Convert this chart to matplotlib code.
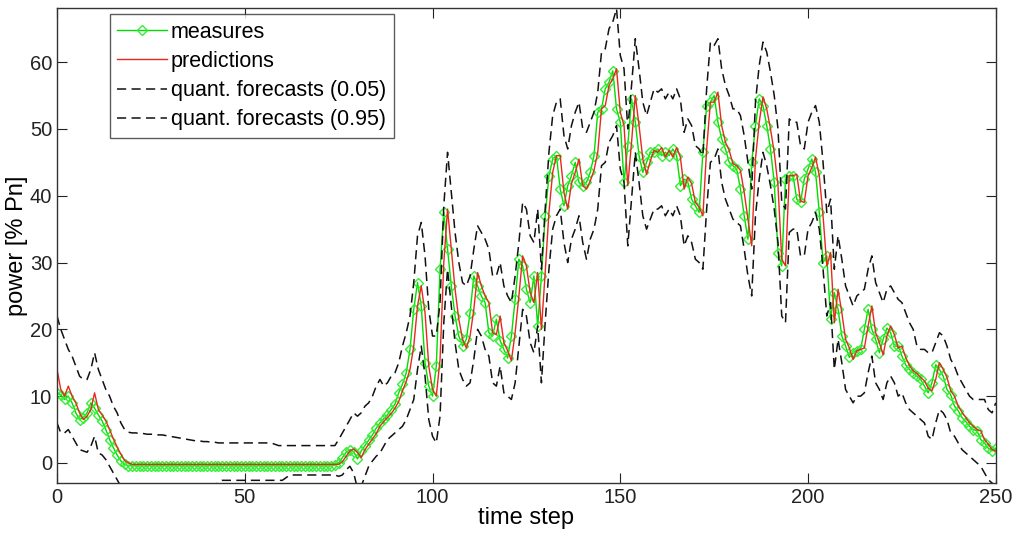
import numpy as np
import matplotlib.pyplot as plt

plt.rcParams['font.family'] = ['Liberation Sans', 'DejaVu Sans']

# valeurs (pas de temps 0..250)
measures = [
    10.5, 10.2, 9.5, 10.0, 9.0, 7.5, 6.5, 6.8, 7.5, 9.0,
    8.2, 7.2, 6.3, 5.0, 3.5, 2.3, 1.2, 0.3, -0.2, -0.4,
    -0.4, -0.4, -0.4, -0.4, -0.4, -0.4, -0.4, -0.4, -0.4, -0.4,
    -0.4, -0.4, -0.4, -0.4, -0.4, -0.4, -0.4, -0.4, -0.4, -0.4,
    -0.4, -0.4, -0.4, -0.4, -0.4, -0.4, -0.4, -0.4, -0.4, -0.4,
    -0.4, -0.4, -0.4, -0.4, -0.4, -0.4, -0.4, -0.4, -0.4, -0.4,
    -0.4, -0.4, -0.4, -0.4, -0.4, -0.4, -0.4, -0.4, -0.4, -0.4,
    -0.4, -0.4, -0.4, -0.4, -0.3, 0.0, 0.8, 1.6, 2.0, 1.7,
    0.6, 1.8, 2.6, 3.4, 4.2, 5.2, 6.0, 6.6, 7.2, 8.0,
    8.8, 10.5, 11.8, 13.5, 17.0, 23.0, 27.0, 23.5, 15.0, 11.5,
    10.0, 14.5, 29.0, 37.5, 32.0, 26.5, 22.0, 19.0, 17.5, 18.5,
    22.5, 28.0, 26.5, 25.0, 24.0, 19.5, 19.0, 21.5, 18.3, 17.0,
    15.7, 19.0, 24.5, 30.5, 29.5, 26.0, 24.0, 28.0, 20.5, 28.0,
    37.0, 43.0, 45.5, 46.0, 41.0, 38.5, 41.5, 43.0, 45.0, 42.0,
    41.5, 42.0, 43.5, 46.0, 52.5, 53.0, 56.0, 57.0, 58.7, 53.0,
    51.0, 42.0, 47.5, 54.5, 51.0, 46.0, 43.5, 45.0, 46.5, 46.5,
    47.0, 46.0, 46.5, 46.0, 47.0, 46.0, 41.5, 42.5, 42.0, 39.5,
    38.5, 37.5, 46.5, 53.5, 54.0, 55.0, 51.0, 48.5, 47.0, 45.0,
    44.5, 44.0, 41.0, 37.0, 33.5, 45.0, 50.5, 54.5, 53.5, 50.5,
    47.0, 42.0, 31.5, 29.5, 42.5, 43.0, 43.0, 39.5, 39.0, 42.5,
    44.0, 45.5, 43.5, 37.5, 30.0, 31.0, 21.5, 25.5, 23.0, 19.0,
    17.5, 15.8, 16.5, 16.8, 17.0, 20.0, 23.0, 20.0, 18.5, 16.5,
    18.5, 20.2, 19.5, 17.5, 17.5, 16.0, 14.7, 14.0, 13.5, 13.0,
    12.5, 11.5, 10.5, 12.0, 14.7, 14.0, 13.0, 11.0, 10.2, 8.5,
    7.8, 6.8, 6.2, 5.5, 5.0, 4.8, 3.5, 3.0, 2.2, 1.8,
    2.2]

predictions = [
    14.0, 11.0, 10.0, 11.5, 10.0, 9.0, 7.5, 6.5, 7.0, 8.0,
    10.5, 8.0, 7.2, 6.3, 5.0, 3.6, 2.4, 1.3, 0.4, 0.0,
    -0.2, -0.2, -0.2, -0.2, -0.2, -0.2, -0.2, -0.2, -0.2, -0.2,
    -0.2, -0.2, -0.2, -0.2, -0.2, -0.2, -0.2, -0.2, -0.2, -0.2,
    -0.2, -0.2, -0.2, -0.2, -0.2, -0.2, -0.2, -0.2, -0.2, -0.2,
    -0.2, -0.2, -0.2, -0.2, -0.2, -0.2, -0.2, -0.2, -0.2, -0.2,
    -0.2, -0.2, -0.2, -0.2, -0.2, -0.2, -0.2, -0.2, -0.2, -0.2,
    -0.2, -0.2, -0.2, -0.2, -0.2, -0.2, 0.2, 1.0, 1.8, 2.1,
    1.6, 0.8, 2.0, 2.8, 3.6, 4.4, 5.5, 6.2, 6.8, 7.4,
    8.2, 9.2, 10.8, 12.2, 14.0, 17.5, 23.5, 26.5, 22.5, 14.5,
    11.0, 10.0, 15.5, 30.0, 38.0, 32.0, 26.0, 21.5, 18.5, 17.2,
    19.0, 23.0, 28.5, 26.5, 25.0, 24.0, 19.5, 19.2, 22.0, 18.0,
    16.8, 15.3, 19.5, 25.0, 31.0, 29.5, 25.5, 24.0, 28.5, 20.0,
    28.5, 37.5, 43.5, 46.0, 46.0, 40.5, 38.0, 41.8, 43.5, 45.5,
    41.5, 41.0, 42.2, 43.8, 46.5, 53.0, 53.5, 56.5, 57.5, 59.0,
    52.5, 50.5, 41.5, 48.0, 55.0, 50.5, 45.5, 43.2, 45.2, 46.8,
    46.5, 47.2, 45.8, 46.8, 45.8, 47.2, 45.8, 41.0, 42.8, 41.8,
    39.0, 38.3, 37.0, 47.0, 54.0, 54.0, 55.5, 50.5, 48.0, 46.8,
    44.8, 44.5, 43.8, 40.5, 36.5, 32.5, 45.5, 51.0, 54.8, 53.0,
    50.0, 46.5, 41.5, 30.5, 29.5, 43.0, 43.0, 43.2, 39.2, 39.0,
    43.0, 44.2, 45.8, 43.0, 37.0, 29.5, 31.5, 21.0, 26.0, 22.5,
    18.5, 17.2, 15.5, 16.8, 17.0, 17.2, 20.5, 23.5, 19.5, 18.0,
    16.2, 19.0, 20.5, 19.2, 17.2, 17.5, 15.8, 14.6, 13.8, 13.4,
    12.8, 12.3, 11.2, 10.8, 12.5, 15.0, 14.0, 12.8, 10.8, 10.0,
    8.5, 7.6, 6.8, 6.0, 5.5, 5.0, 4.8, 3.5, 2.8, 2.0,
    1.8]

quant_05 = [
    6.0, 4.5, 4.5, 5.0, 4.0, 3.0, 2.0, 1.8, 1.6, 2.5,
    4.0, 1.5, 1.2, 0.5, -0.5, -1.5, -2.5, -3.5, -4.0, -4.0,
    -4.0, -4.0, -4.0, -4.0, -4.0, -4.0, -4.0, -4.0, -4.0, -4.0,
    -4.0, -4.0, -4.0, -4.0, -4.0, -4.0, -4.0, -4.0, -4.0, -4.0,
    -4.0, -4.0, -3.5, -2.8, -2.6, -2.6, -2.6, -2.6, -2.6, -2.6,
    -2.6, -2.6, -2.6, -2.6, -2.6, -2.6, -2.6, -2.6, -2.6, -2.6,
    -2.6, -2.2, -1.8, -1.8, -1.8, -1.8, -1.8, -1.8, -1.8, -1.8,
    -1.8, -1.8, -1.8, -1.8, -1.8, -2.0, -1.8, -1.0, -0.5, -1.5,
    -3.8, -3.5, -2.0, -0.5, 0.3, 1.0, 1.5, 2.5, 3.5, 4.0,
    4.5, 5.0, 5.5, 6.5, 8.0, 9.5, 14.0, 17.5, 13.0, 6.5,
    4.0, 3.0, 7.0, 21.0, 29.0, 23.5, 18.0, 14.0, 12.5, 11.5,
    12.0, 15.5, 20.0, 19.0, 17.0, 16.0, 12.0, 11.5, 14.5, 10.5,
    10.0, 9.5, 12.0, 17.5, 23.0, 22.0, 18.0, 16.5, 20.5, 12.0,
    21.0, 29.0, 35.0, 37.0, 38.0, 33.0, 30.0, 33.5, 35.0, 37.0,
    33.0, 30.5, 33.5, 35.0, 38.0, 44.5, 45.0, 48.0, 49.0, 50.5,
    44.0, 42.0, 32.5, 39.5, 46.5, 42.0, 37.0, 35.0, 36.5, 38.0,
    38.0, 38.5, 37.0, 38.0, 37.0, 38.5, 37.0, 32.5, 34.0, 33.0,
    30.5, 30.0, 29.0, 38.0, 45.0, 45.5, 47.0, 42.0, 39.5, 38.0,
    36.5, 36.0, 35.5, 32.0, 28.0, 25.0, 37.0, 42.5, 46.5, 44.5,
    41.5, 38.0, 33.0, 22.0, 21.0, 34.5, 35.0, 35.0, 31.0, 31.0,
    35.0, 36.0, 37.5, 35.0, 29.0, 22.0, 24.0, 14.0, 18.5, 15.0,
    11.0, 10.0, 9.0, 10.0, 10.0, 10.5, 13.5, 16.0, 12.0, 11.0,
    9.5, 12.0, 13.0, 12.0, 10.0, 10.5, 9.0, 8.0, 7.5, 7.0,
    6.5, 6.0, 4.0, 3.5, 6.0, 8.0, 7.5, 6.5, 4.5, 4.0,
    3.0, 2.0, 1.5, 1.0, 0.5, 0.0, -0.5, -1.5, -2.5, -3.0,
    -3.5]

quant_95 = [
    22.0, 20.0, 18.5, 17.0, 16.0, 14.5, 13.0, 12.5, 12.5, 14.0,
    16.5, 14.0, 12.5, 11.0, 10.0, 8.5, 7.5, 6.0, 5.0, 4.6,
    4.5, 4.5, 4.4, 4.4, 4.3, 4.3, 4.3, 4.2, 4.2, 4.1,
    4.0, 3.9, 3.8, 3.7, 3.6, 3.5, 3.4, 3.3, 3.3, 3.2,
    3.2, 3.1, 3.1, 3.0, 3.0, 3.0, 3.0, 3.0, 3.0, 3.0,
    3.0, 3.0, 3.0, 3.0, 3.0, 3.0, 3.0, 3.0, 2.8, 2.6,
    2.6, 2.6, 2.6, 2.6, 2.6, 2.6, 2.6, 2.6, 2.6, 2.6,
    2.6, 2.6, 2.6, 2.6, 2.6, 3.5, 4.5, 5.5, 6.5, 7.5,
    7.0, 7.5, 8.5, 9.0, 10.0, 11.5, 12.5, 11.5, 12.0, 13.0,
    13.5, 15.0, 17.5, 19.5, 22.0, 27.0, 34.0, 36.0, 31.0, 23.0,
    19.0, 19.0, 24.0, 38.5, 46.5, 40.5, 34.5, 30.0, 27.0, 26.5,
    28.0, 32.0, 35.5, 34.5, 33.5, 32.0, 28.0, 28.0, 30.0, 26.5,
    25.0, 24.0, 28.0, 33.0, 39.0, 38.0, 34.0, 33.0, 38.0, 29.0,
    38.0, 46.5, 52.0, 54.0, 54.5, 49.0, 47.0, 50.5, 52.5, 54.0,
    50.0, 49.5, 51.0, 52.5, 55.5, 61.5, 62.0, 65.0, 66.0, 68.0,
    61.0, 59.0, 50.0, 56.5, 63.5, 59.0, 54.0, 52.0, 54.0, 56.0,
    55.5, 56.0, 54.5, 55.5, 54.5, 56.0, 54.5, 49.5, 51.5, 50.5,
    47.5, 47.0, 46.0, 56.0, 63.0, 62.5, 63.5, 59.0, 56.5, 55.0,
    53.0, 53.0, 52.0, 49.0, 45.0, 41.0, 54.0, 59.5, 63.0, 61.5,
    58.5, 55.0, 50.0, 39.0, 38.0, 51.5, 51.0, 51.0, 47.5, 47.0,
    51.0, 52.5, 53.5, 51.0, 45.0, 37.5, 39.5, 29.0, 34.0, 30.5,
    26.5, 25.0, 23.5, 25.0, 25.5, 26.0, 29.0, 31.0, 27.0, 25.5,
    24.0, 26.0, 26.5, 25.5, 24.5, 24.0, 22.5, 21.0, 20.0, 17.5,
    17.0, 17.0, 16.5, 16.5, 18.0, 19.5, 19.0, 17.5, 15.5, 14.5,
    13.0, 12.0, 11.0, 10.0, 9.5, 9.5, 9.5, 9.5, 8.0, 7.5,
    9.0]

t = np.arange(len(measures))

fig = plt.figure(figsize=(10.13, 5.34), dpi=100)
ax = fig.add_axes([0.0563, 0.0955, 0.9267, 0.8895])

ax.plot(t, measures, '-', color='#00dd00', lw=1.0, marker='D', ms=5.5,
        mfc='none', mec='#33ee33', mew=1.0, label='measures')
ax.plot(t, predictions, '-', color='#e8281e', lw=1.0, label='predictions')
ax.plot(t, quant_05, '--', color='#111111', lw=1.1, dashes=(6, 3.5),
        label='quant. forecasts (0.05)')
ax.plot(t, quant_95, '--', color='#111111', lw=1.1, dashes=(6, 3.5),
        label='quant. forecasts (0.95)')

ax.set_xlim(0, 250)
ax.set_ylim(-3, 68.1)
ax.set_xticks([0, 50, 100, 150, 200, 250])
ax.set_yticks([0, 10, 20, 30, 40, 50, 60])
ax.tick_params(direction='in', top=True, right=True, length=7,
               labelsize=14.5, colors='#222222')
for s in ax.spines.values():
    s.set_color('#333333')
    s.set_linewidth(1.0)

ax.set_xlabel('time step', fontsize=17, labelpad=0)
ax.set_ylabel('power [% Pn]', fontsize=17, labelpad=1)

leg = ax.legend(loc='upper left', bbox_to_anchor=(0.056, 0.987),
                fontsize=15.5, frameon=True, fancybox=False,
                handlelength=2.3, handletextpad=0.2, labelspacing=0.38,
                borderpad=0.35, borderaxespad=0)
leg.get_frame().set_edgecolor('#333333')
leg.get_frame().set_linewidth(1.0)

plt.savefig('out.png', dpi=100)
